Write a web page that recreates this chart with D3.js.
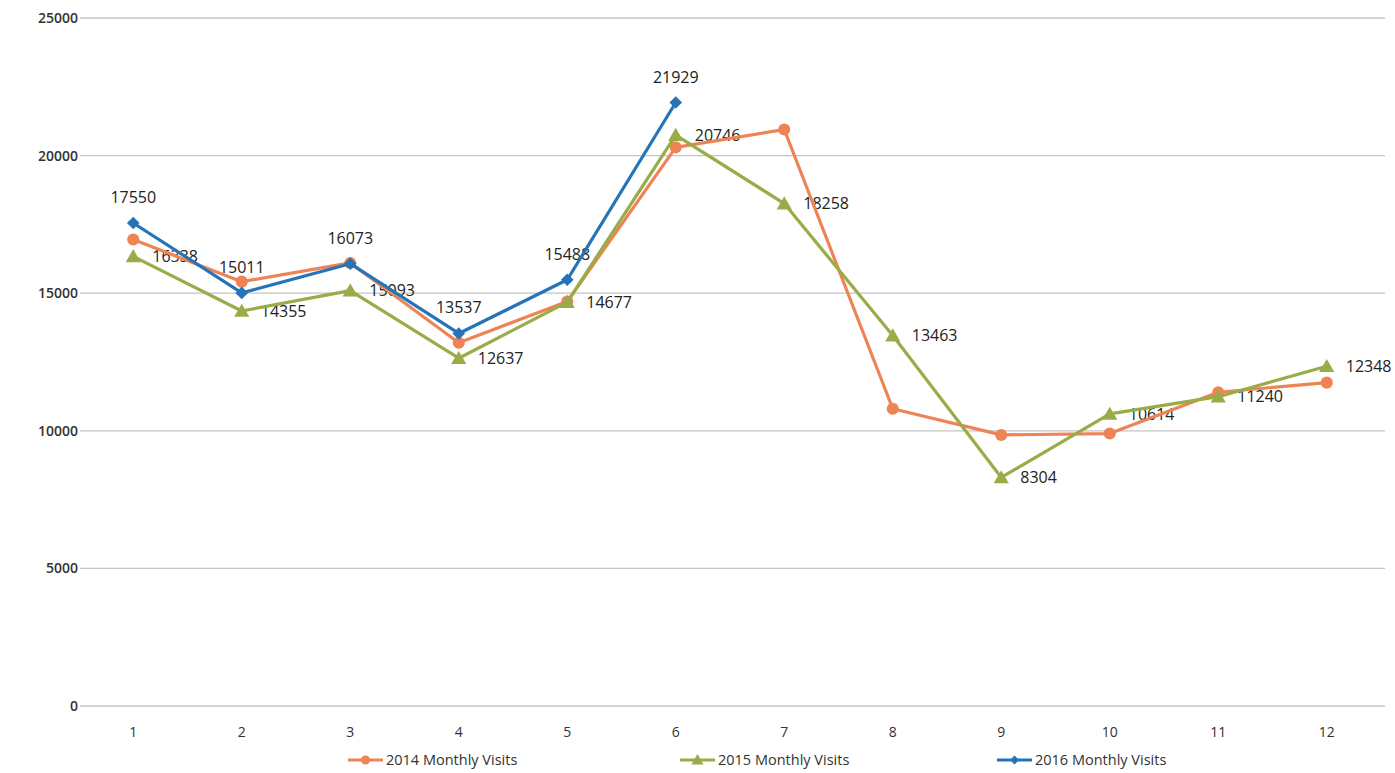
<!DOCTYPE html>
<html>
<head>
<meta charset="utf-8">
<script src="https://cdn.jsdelivr.net/npm/d3@7"></script>
<style>
  html, body { margin: 0; padding: 0; background: #fff; }
  svg { display: block; }
</style>
</head>
<body>
<svg id="chart" width="1395" height="773"></svg>
<script>
const months = ["1","2","3","4","5","6","7","8","9","10","11","12"];
const yTicks = [0, 5000, 10000, 15000, 20000, 25000];
const visits2014 = [16950, 15420, 16100, 13200, 14700, 20300, 20950, 10800, 9850, 9900, 11400, 11750];
const visits2015 = [16338, 14355, 15093, 12637, 14677, 20746, 18258, 13463, 8304, 10614, 11240, 12348];
const visits2016 = [17550, 15011, 16073, 13537, 15488, 21929];
const seriesNames = ["2014 Monthly Visits", "2015 Monthly Visits", "2016 Monthly Visits"];

const colors = ["#EE8455", "#98AC48", "#2574B8"];
const series = [
  { name: seriesNames[0], values: visits2014, color: colors[0], marker: "circle", labels: null },
  { name: seriesNames[1], values: visits2015, color: colors[1], marker: "triangle", labels: "right" },
  { name: seriesNames[2], values: visits2016, color: colors[2], marker: "diamond", labels: "above" }
];

const svg = d3.select("#chart");
const x = d3.scaleBand().domain(months).range([79, 1381]);
const cx = m => x(m) + x.bandwidth() / 2;
const y = d3.scaleLinear().domain([0, 25000]).range([706, 18]);

// gridlines
svg.append("g").selectAll("line").data(yTicks).join("line")
  .attr("x1", 80).attr("x2", 1385)
  .attr("y1", d => y(d)).attr("y2", d => y(d))
  .attr("stroke", "#c4c4c4").attr("stroke-width", 1.3);

// y axis labels
const yAxis = d3.axisLeft(y).tickValues(yTicks).tickFormat(d3.format("d")).tickSize(0).tickPadding(0);
const ya = svg.append("g").attr("transform", "translate(78,0)").call(yAxis);
ya.select(".domain").remove();
ya.selectAll("text").attr("font-family", "Open Sans, sans-serif").attr("font-size", 14)
  .attr("font-weight", 600).attr("fill", "#333");

// x axis labels
const xAxis = d3.axisBottom(x).tickSize(0).tickPadding(0);
const xa = svg.append("g").attr("transform", "translate(0,727)").call(xAxis);
xa.select(".domain").remove();
xa.selectAll("text").attr("font-family", "Open Sans, sans-serif").attr("font-size", 14)
  .attr("fill", "#333");

function markerPath(type, size) {
  if (type === "circle") return d3.symbol().type(d3.symbolCircle).size(size)();
  if (type === "triangle") return d3.symbol().type(d3.symbolTriangle).size(size)();
  return d3.symbol().type(d3.symbolSquare).size(size)();
}
const markerRot = t => t === "diamond" ? " rotate(45)" : "";

// data labels (drawn under lines)
const labelG = svg.append("g").attr("font-family", "Open Sans, sans-serif")
  .attr("font-size", 16).attr("fill", "#222");
series.forEach(s => {
  if (!s.labels) return;
  const pts = s.values.map((v, i) => ({ m: months[i], v }));
  labelG.append("g").selectAll("text").data(pts).join("text")
    .attr("x", d => s.labels === "right" ? cx(d.m) + 19 : cx(d.m))
    .attr("y", d => s.labels === "right" ? y(d.v) : y(d.v) - 20)
    .attr("dy", s.labels === "right" ? "0.35em" : 0)
    .attr("text-anchor", s.labels === "right" ? "start" : "middle")
    .text(d => d.v);
});

const line = d3.line().x(d => cx(d.m)).y(d => y(d.v));
const mSize = { circle: 115, triangle: 100, diamond: 80 };
series.forEach(s => {
  const pts = s.values.map((v, i) => ({ m: months[i], v }));
  const g = svg.append("g");
  g.append("path").datum(pts).attr("d", line)
    .attr("fill", "none").attr("stroke", s.color).attr("stroke-width", 3.2)
    .attr("stroke-linejoin", "round");
  g.selectAll("path.mk").data(pts).join("path").attr("class", "mk")
    .attr("transform", d => `translate(${cx(d.m)},${y(d.v) + (s.marker === "triangle" ? 1.5 : 0)})${markerRot(s.marker)}`)
    .attr("d", markerPath(s.marker, mSize[s.marker]))
    .attr("fill", s.color);
});

// legend
const legendX = [348, 680, 997];
const lg = svg.append("g").attr("font-family", "Open Sans, sans-serif")
  .attr("font-size", 14.5).attr("fill", "#333");
series.forEach((s, i) => {
  const g = lg.append("g").attr("transform", `translate(${legendX[i]},760)`);
  g.append("line").attr("x1", 0).attr("x2", 35).attr("stroke", s.color).attr("stroke-width", 3);
  g.append("path").attr("transform", `translate(17.5,${s.marker === "triangle" ? 1 : 0})${markerRot(s.marker)}`)
    .attr("d", markerPath(s.marker, s.marker === "diamond" ? 40 : 65))
    .attr("fill", s.color);
  g.append("text").attr("x", 38).attr("dy", "0.35em").text(s.name);
});
</script>
</body>
</html>
